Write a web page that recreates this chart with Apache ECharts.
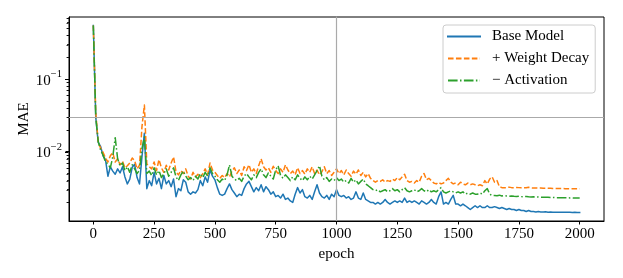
<!DOCTYPE html>
<html>
<head>
<meta charset="utf-8">
<script src="https://cdn.jsdelivr.net/npm/echarts@6/dist/echarts.min.js"></script>
<style>html,body{margin:0;padding:0;background:#fff;}#c{width:623px;height:278px;}</style>
</head>
<body>
<div id="c"></div>
<script>
// ---- data ----
const EPOCH_STEP = 10;
const seriesNames = ['Base Model', '+ Weight Decay', '\u2212 Activation'];
const baseModel = [0.55,0.030,0.0135,0.0118,0.0088,0.0078,0.0046,0.0062,0.0054,0.0049,
0.0058,0.0051,0.0062,0.0045,0.0036,0.0042,0.0061,0.0067,0.0044,0.0036,
0.0085,0.018,0.0031,0.0040,0.0034,0.0052,0.0036,0.0043,0.0031,0.0047,
0.0036,0.0040,0.0033,0.0042,0.0024,0.0031,0.0029,0.0041,0.0038,0.0028,
0.0026,0.0028,0.0027,0.0030,0.0040,0.0034,0.0045,0.0038,0.0056,0.0046,
0.0041,0.0032,0.0026,0.0025,0.0026,0.0031,0.0036,0.0030,0.0027,0.0024,
0.0026,0.0025,0.0031,0.0036,0.0039,0.0033,0.0028,0.0032,0.0029,0.0035,
0.0028,0.0033,0.0030,0.0026,0.0028,0.0024,0.0025,0.0023,0.0026,0.0022,
0.0023,0.0021,0.0020,0.0026,0.0032,0.0027,0.0030,0.0024,0.0023,0.0025,
0.0022,0.0028,0.0035,0.0027,0.0024,0.0023,0.0025,0.0022,0.0026,0.0024,
0.0030,0.0025,0.0024,0.0025,0.0023,0.0024,0.0022,0.0023,0.0028,0.0023,
0.0022,0.0027,0.0022,0.0021,0.0020,0.0020,0.0019,0.0020,0.0019,0.0020,
0.0022,0.0020,0.0019,0.0020,0.0021,0.0020,0.0021,0.0020,0.0023,0.0020,
0.0021,0.0020,0.0021,0.0020,0.0019,0.0021,0.0020,0.0019,0.0020,0.0022,
0.0020,0.0019,0.0024,0.0028,0.0019,0.0020,0.0019,0.0022,0.0025,0.0019,
0.0019,0.0018,0.0019,0.0018,0.0017,0.0016,0.0017,0.0018,0.0017,0.0018,
0.0017,0.0017,0.0018,0.0017,0.0017,0.00175,0.0017,0.00165,0.0017,0.00165,
0.0016,0.00165,0.0016,0.0016,0.00155,0.0016,0.00155,0.00155,0.0015,0.00155,
0.0015,0.0015,0.00148,0.0015,0.00148,0.00148,0.00149,0.00147,0.00148,0.00147,
0.00147,0.00146,0.00147,0.00146,0.00146,0.00147,0.00146,0.00145,0.00146,0.00145,
0.00145];
const weightDecay = [0.55,0.035,0.0135,0.0112,0.0098,0.0082,0.0072,0.0088,0.0097,0.0072,
0.0080,0.0066,0.0074,0.0060,0.0064,0.0070,0.0082,0.0075,0.0058,0.0065,
0.022,0.044,0.0068,0.0062,0.0058,0.0072,0.0055,0.0078,0.0060,0.0052,
0.0065,0.0056,0.0070,0.0085,0.0053,0.0048,0.0055,0.0050,0.0058,0.0046,
0.0042,0.0052,0.0045,0.0049,0.0044,0.0050,0.0058,0.0048,0.0070,0.0056,
0.0052,0.0047,0.0043,0.0047,0.0044,0.0050,0.0045,0.0054,0.0060,0.0050,
0.0056,0.0047,0.0062,0.0055,0.0066,0.0052,0.0058,0.0050,0.0064,0.0080,
0.0062,0.0056,0.0060,0.0052,0.0063,0.0055,0.0050,0.0058,0.0052,0.0066,
0.0056,0.0050,0.0054,0.0048,0.0060,0.0050,0.0055,0.0049,0.0058,0.0052,
0.0062,0.0050,0.0056,0.0048,0.0053,0.0062,0.0050,0.0055,0.0047,0.0052,
0.0058,0.0050,0.0055,0.0048,0.0056,0.0050,0.0046,0.0054,0.0049,0.0056,
0.0047,0.0052,0.0045,0.0050,0.0043,0.0040,0.0038,0.0040,0.0039,0.0041,
0.0038,0.0040,0.0039,0.0042,0.0040,0.0044,0.0041,0.0045,0.0049,0.0040,
0.0038,0.0039,0.0037,0.0040,0.0038,0.0046,0.0050,0.0041,0.0043,0.0040,
0.0037,0.0036,0.0038,0.0036,0.0037,0.0040,0.0043,0.0038,0.0036,0.0037,
0.0035,0.0038,0.0036,0.0035,0.0037,0.0035,0.0036,0.0035,0.0034,0.0035,
0.0034,0.0040,0.0036,0.0042,0.0045,0.0038,0.0040,0.0033,0.0032,0.0032,
0.0032,0.00325,0.0032,0.0032,0.00322,0.0032,0.00318,0.0032,0.00318,0.00324,
0.00318,0.00316,0.00316,0.00315,0.00316,0.00314,0.00314,0.00313,0.00314,0.00312,
0.00312,0.00312,0.00311,0.00312,0.0031,0.0031,0.0031,0.0031,0.0031,0.0031,
0.0031];
const activation = [0.55,0.030,0.0140,0.0105,0.0090,0.0072,0.0068,0.0060,0.0085,0.0156,
0.0080,0.0064,0.0070,0.0055,0.0062,0.0052,0.0066,0.0058,0.0050,0.0056,
0.0110,0.016,0.0050,0.0054,0.0047,0.0060,0.0048,0.0055,0.0044,0.0050,
0.0058,0.0046,0.0052,0.0060,0.0045,0.0040,0.0048,0.0054,0.0046,0.0041,
0.0044,0.0040,0.0046,0.0042,0.0050,0.0044,0.0052,0.0046,0.0060,0.0050,
0.0046,0.0041,0.0038,0.0042,0.0040,0.0048,0.0066,0.0046,0.0042,0.0040,
0.0043,0.0039,0.0046,0.0050,0.0045,0.0041,0.0048,0.0044,0.0052,0.0058,
0.0048,0.0044,0.0051,0.0046,0.0042,0.0056,0.0064,0.0047,0.0043,0.0048,
0.0044,0.0040,0.0045,0.0041,0.0048,0.0043,0.0040,0.0045,0.0041,0.0046,
0.0042,0.0048,0.0055,0.0064,0.0046,0.0041,0.0044,0.0039,0.0042,0.0040,
0.0044,0.0040,0.0042,0.0038,0.0040,0.0037,0.0043,0.0038,0.0041,0.0036,
0.0039,0.0042,0.0036,0.0034,0.0032,0.0030,0.0029,0.0030,0.0028,0.0029,
0.0030,0.0028,0.0029,0.0031,0.0029,0.0030,0.0028,0.0030,0.0032,0.0029,
0.0028,0.0029,0.0030,0.0028,0.0029,0.0031,0.0029,0.0028,0.0030,0.0028,
0.0029,0.0028,0.0030,0.0032,0.0028,0.0027,0.0028,0.0029,0.0028,0.0027,
0.0028,0.0027,0.0028,0.0026,0.0027,0.0026,0.0027,0.0026,0.0026,0.0027,
0.0026,0.0029,0.0031,0.0026,0.0025,0.0025,0.00248,0.00252,0.00246,0.00248,
0.00245,0.00244,0.00246,0.00243,0.00242,0.00244,0.00241,0.0024,0.00241,0.00239,
0.00238,0.00239,0.00237,0.00238,0.00236,0.00236,0.00235,0.00236,0.00234,0.00234,
0.00233,0.00233,0.00233,0.00232,0.00232,0.00232,0.00231,0.00231,0.0023,0.0023,
0.0023];
const xTickValues = [0, 250, 500, 750, 1000, 1250, 1500, 1750, 2000];
const yMajorTicks = [0.01, 0.1];
const yMinorTicks = [0.002,0.003,0.004,0.005,0.006,0.007,0.008,0.009,
  0.02,0.03,0.04,0.05,0.06,0.07,0.08,0.09,0.2,0.3,0.4,0.5,0.6,0.7];
const refLineY = 0.027;
const refLineX = 1000;
const X_MIN = -100, X_MAX = 2100, Y_MIN = 0.00111, Y_MAX = 0.718;

// ---- chart ----
const FONT = '"Liberation Serif", "Times New Roman", "DejaVu Serif", serif';
const colors = ['#1f77b4', '#ff7f0e', '#2ca02c'];
const dashes = ['solid', [5.55, 2.4], [9.6, 2.4, 1.5, 2.4]];
const seriesValues = [baseModel, weightDecay, activation];

const toPairs = vals => vals.map((v, i) => [i * EPOCH_STEP, v]);

const lineSeries = seriesValues.map((vals, k) => ({
  name: seriesNames[k],
  type: 'line',
  data: toPairs(vals),
  showSymbol: false,
  symbol: 'none',
  animation: false,
  z: 2 + k,
  lineStyle: { color: colors[k], width: 1.5, type: dashes[k], cap: k === 0 ? 'square' : 'butt', join: 'round' },
  itemStyle: { color: colors[k] }
}));

lineSeries[2].markLine = {
  silent: true,
  symbol: 'none',
  animation: false,
  label: { show: false },
  lineStyle: { color: '#aaaaaa', width: 1.2, type: 'solid' },
  data: [{ yAxis: refLineY }, { xAxis: refLineX }]
};

const yLabelFormatter = v => {
  const e = Math.round(Math.log10(v));
  if (Math.abs(Math.log10(v) - e) > 1e-6) return '';
  return '{b|10}{s|' + (e < 0 ? '\u2212' : '') + Math.abs(e) + '}';
};

const chart = echarts.init(document.getElementById('c'), null, { renderer: 'canvas' });
chart.setOption({
  animation: false,
  backgroundColor: '#fff',
  textStyle: { fontFamily: FONT },
  grid: { left: 69, right: 19, top: 17, bottom: 57, show: true, borderColor: '#000', borderWidth: 1, backgroundColor: 'transparent' },
  legend: {
    data: seriesNames,
    orient: 'vertical',
    left: 443,
    top: 25,
    padding: [4, 6, 5, 4],
    itemGap: 7,
    itemWidth: 32,
    itemHeight: 14,
    itemStyle: { opacity: 0 },
    backgroundColor: 'rgba(255,255,255,0.8)',
    borderColor: '#cccccc',
    borderWidth: 1,
    borderRadius: 3,
    formatter: name => '{g|}{t|' + name + '}',
    textStyle: {
      fontFamily: FONT, fontSize: 15, color: '#000', lineHeight: 15,
      rich: {
        g: { width: 7, height: 15 },
        t: { fontFamily: FONT, fontSize: 15, color: '#000', lineHeight: 15 }
      }
    }
  },
  xAxis: {
    type: 'value',
    min: X_MIN,
    max: X_MAX,
    name: 'epoch',
    nameLocation: 'middle',
    nameGap: 26,
    nameMoveOverlap: false,
    nameTextStyle: { fontFamily: FONT, fontSize: 15, color: '#000' },
    splitLine: { show: false },
    axisLine: { show: true, onZero: false, lineStyle: { color: '#000', width: 1 } },
    axisTick: { show: true, length: 3.5, lineStyle: { color: '#000', width: 1 }, customValues: xTickValues },
    axisLabel: { fontFamily: FONT, fontSize: 15, color: '#000', margin: 6, customValues: xTickValues, formatter: v => String(v) }
  },
  yAxis: [{
    type: 'log',
    logBase: 10,
    min: Y_MIN,
    max: Y_MAX,
    name: 'MAE',
    nameLocation: 'middle',
    nameGap: 37,
    nameMoveOverlap: false,
    nameRotate: 90,
    nameTextStyle: { fontFamily: FONT, fontSize: 15, color: '#000' },
    splitLine: { show: false },
    axisLine: { show: true, onZero: false, lineStyle: { color: '#000', width: 1 } },
    axisTick: { show: true, length: 3.5, lineStyle: { color: '#000', width: 1 }, customValues: yMajorTicks },
    axisLabel: {
      margin: 7,
      interval: 0,
      showMinLabel: false,
      showMaxLabel: false,
      formatter: yLabelFormatter,
      rich: {
        b: { fontFamily: FONT, fontSize: 15, color: '#000', lineHeight: 20, padding: [3, 0, 0, 0] },
        s: { fontFamily: FONT, fontSize: 10.5, color: '#000', lineHeight: 8, verticalAlign: 'top' }
      }
    }
  }, {
    type: 'log',
    logBase: 10,
    min: Y_MIN,
    max: Y_MAX,
    position: 'left',
    offset: 0,
    splitLine: { show: false },
    axisLine: { show: false, onZero: false },
    axisLabel: { show: false },
    axisTick: { show: true, length: 2, lineStyle: { color: '#000', width: 0.8 }, customValues: yMinorTicks }
  }],
  tooltip: { show: false },
  series: lineSeries
});

// y-axis log tick marks (major + minor), positioned through the chart's own axis scales
function drawYTicks() {
  const els = [];
  [[yMajorTicks, 3.5, 1], [yMinorTicks, 2, 0.8]].forEach(([vals, len, w]) => {
    vals.forEach(v => {
      const p = chart.convertToPixel({ gridIndex: 0 }, [X_MIN, v]);
      if (!p || !isFinite(p[0]) || !isFinite(p[1])) return;
      const y = Math.round(p[1]) + 0.5;
      els.push({
        type: 'line',
        silent: true,
        z: 100,
        shape: { x1: p[0] - 0.5, y1: y, x2: p[0] - 0.5 - len, y2: y },
        style: { stroke: '#000', lineWidth: w }
      });
    });
  });
  chart.setOption({ graphic: { elements: els } });
}
drawYTicks();
</script>
</body>
</html>
